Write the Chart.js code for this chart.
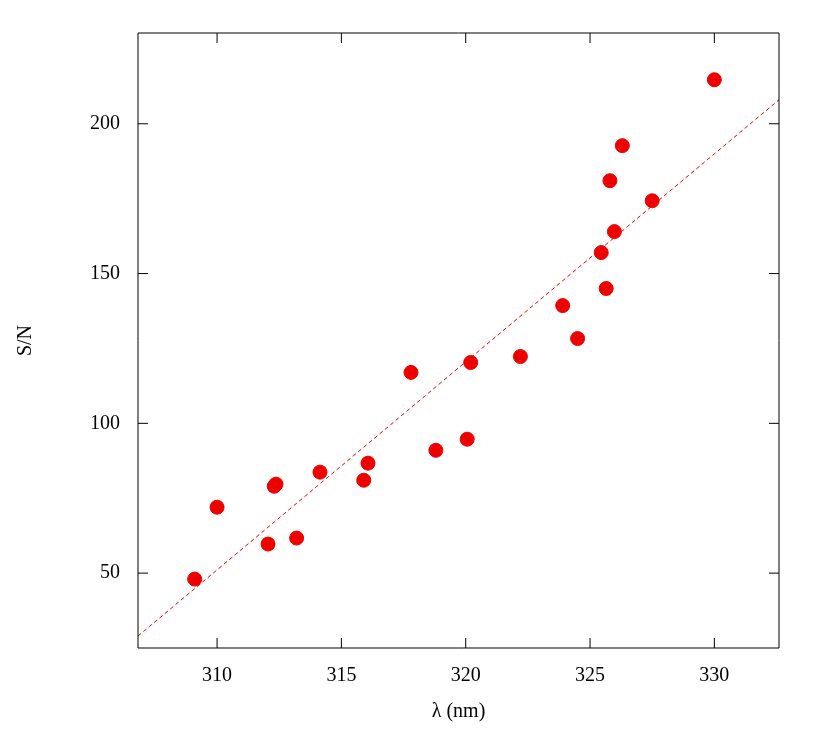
<!DOCTYPE html>
<html>
<head>
<style>
  html, body { margin: 0; padding: 0; background: #fff; }
  #wrap { width: 830px; height: 738px; }
</style>
</head>
<body>
<div id="wrap"><canvas id="myChart"></canvas></div>
<script src="https://cdn.jsdelivr.net/npm/chart.js@4.4.0/dist/chart.umd.min.js"></script>
<script>
  // measured points
  const wavelength = [309.1, 310.0, 312.05, 312.3, 312.37, 313.2, 314.14, 315.9, 316.07, 317.8, 318.8,
    320.06, 320.2, 322.2, 323.9, 324.5, 325.45, 325.65, 325.8, 325.98, 326.3, 327.5, 330.0]
  const snr = [48, 72, 59.7, 79, 79.7, 61.7, 83.7, 81, 86.7, 117, 91,
    94.7, 120.3, 122.3, 139.3, 128.3, 157, 145, 181, 164, 192.7, 174.3, 214.7]
  // linear fit end points
  const fitX = [306.82, 332.6]
  const fitY = [29, 208]

  const xMin = 306.82, xMax = 332.6, yMin = 25, yMax = 230.3
  const font = { family: "'Liberation Serif', 'DejaVu Serif', serif", size: 20 }

  // inward ticks on all four sides
  const tickMarks = {
    id: 'tickMarks',
    afterDraw(chart) {
      const { ctx, chartArea: a, scales } = chart
      ctx.save()
      ctx.strokeStyle = '#000'
      ctx.lineWidth = 1
      ctx.beginPath()
      ctx.rect(a.left, a.top, a.right - a.left, a.bottom - a.top)
      scales.x.ticks.forEach(t => {
        const px = scales.x.getPixelForValue(t.value)
        ctx.moveTo(px, a.bottom); ctx.lineTo(px, a.bottom - 10)
        ctx.moveTo(px, a.top); ctx.lineTo(px, a.top + 10)
      })
      scales.y.ticks.forEach(t => {
        const py = scales.y.getPixelForValue(t.value)
        ctx.moveTo(a.left, py); ctx.lineTo(a.left + 10, py)
        ctx.moveTo(a.right, py); ctx.lineTo(a.right - 10, py)
      })
      ctx.stroke()
      ctx.restore()
    }
  }

  new Chart(document.getElementById('myChart'), {
    data: {
      datasets: [{
        type: 'scatter',
        data: wavelength.map((x, i) => ({ x, y: snr[i] })),
        backgroundColor: '#ee0000',
        borderColor: '#ee0000',
        pointRadius: 7,
        pointHoverRadius: 7
      }, {
        type: 'line',
        data: fitX.map((x, i) => ({ x, y: fitY[i] })),
        borderColor: '#ee0000',
        borderWidth: 1,
        borderDash: [4, 3],
        pointRadius: 0,
        fill: false
      }]
    },
    options: {
      responsive: true,
      maintainAspectRatio: false,
      animation: false,
      layout: { padding: { left: 10, right: 51, top: 33, bottom: 10 } },
      plugins: { legend: { display: false }, tooltip: { enabled: false } },
      scales: {
        x: {
          type: 'linear', min: xMin, max: xMax,
          afterBuildTicks: s => { s.ticks = [310, 315, 320, 325, 330].map(v => ({ value: v })) },
          afterFit: s => { s.height = 738 - 648 - 10 },
          grid: { display: false },
          border: { display: false },
          ticks: { color: '#000', font, padding: 8 },
          title: { display: true, text: 'λ (nm)', color: '#000', font, padding: { top: 4 } }
        },
        y: {
          type: 'linear', min: yMin, max: yMax,
          afterBuildTicks: s => { s.ticks = [50, 100, 150, 200].map(v => ({ value: v })) },
          afterFit: s => { s.width = 128 },
          grid: { display: false },
          border: { display: false },
          ticks: { color: '#000', font, padding: 10 },
          title: { display: true, text: 'S/N', color: '#000', font, padding: { bottom: 14 } }
        }
      }
    },
    plugins: [tickMarks]
  })
</script>
</body>
</html>
